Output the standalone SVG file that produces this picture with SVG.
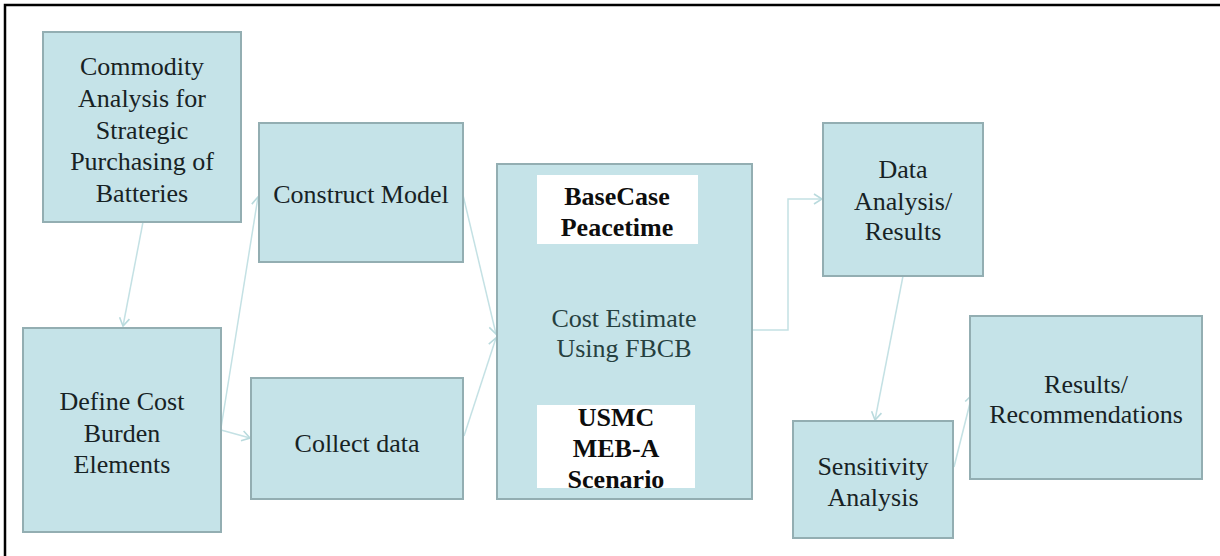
<svg xmlns="http://www.w3.org/2000/svg" width="1220" height="556" viewBox="0 0 1220 556">
<style>
.box{fill:#c5e3e8;stroke:#93aeb2;stroke-width:2}
.wbox{fill:#ffffff;stroke:none}
.t{font-family:"Liberation Serif","Times New Roman",serif;font-size:26px;fill:#172224;text-anchor:middle}
.b{font-weight:bold;fill:#0d0d0d}
.c{fill:#26403f}
.conn{fill:none;stroke:#c4e1e4;stroke-width:1.5}
</style>
<defs>
<marker id="arr" markerWidth="10" markerHeight="12" refX="9" refY="6" orient="auto" markerUnits="userSpaceOnUse">
<path d="M1,1 L9,6 L1,11" fill="none" stroke="#b9dadd" stroke-width="1.6"/>
</marker>
</defs>
<rect x="0" y="0" width="1220" height="556" fill="#ffffff"/>
<path d="M5,556 L5,5 L1220,5" fill="none" stroke="#000" stroke-width="2.5"/>

<g id="connectors">
<line class="conn" x1="143" y1="222" x2="123" y2="326" marker-end="url(#arr)"/>
<line class="conn" x1="221" y1="428" x2="258" y2="197" marker-end="url(#arr)"/>
<line class="conn" x1="221" y1="430" x2="250" y2="438" marker-end="url(#arr)"/>
<line class="conn" x1="463" y1="195" x2="496" y2="334" marker-end="url(#arr)"/>
<line class="conn" x1="464" y1="436" x2="496" y2="338" marker-end="url(#arr)"/>
<path class="conn" d="M752,330 L788,330 L788,199 L822,199" marker-end="url(#arr)"/>
<line class="conn" x1="903" y1="276" x2="875" y2="420" marker-end="url(#arr)"/>
<line class="conn" x1="954" y1="467" x2="972" y2="395" marker-end="url(#arr)"/>
</g>

<g id="commodity">
<rect class="box" x="43" y="32" width="198" height="190"/>
<text class="t" x="142" y="75">Commodity</text>
<text class="t" x="142" y="107">Analysis for</text>
<text class="t" x="142" y="139">Strategic</text>
<text class="t" x="142" y="170">Purchasing of</text>
<text class="t" x="142" y="202">Batteries</text>
</g>

<g id="construct">
<rect class="box" x="259" y="123" width="204" height="139"/>
<text class="t" x="361" y="203">Construct Model</text>
</g>

<g id="define">
<rect class="box" x="23" y="328" width="198" height="204"/>
<text class="t" x="122" y="410">Define Cost</text>
<text class="t" x="122" y="442">Burden</text>
<text class="t" x="122" y="473">Elements</text>
</g>

<g id="collect">
<rect class="box" x="251" y="378" width="212" height="121"/>
<text class="t" x="357" y="452">Collect data</text>
</g>

<g id="cost">
<rect class="box" x="497" y="164" width="255" height="335"/>
<rect class="wbox" x="537" y="175" width="161" height="69"/>
<text class="t b" x="617" y="205">BaseCase</text>
<text class="t b" x="617" y="236">Peacetime</text>
<text class="t c" x="624" y="327">Cost Estimate</text>
<text class="t c" x="624" y="357">Using FBCB</text>
<rect class="wbox" x="537" y="405" width="158" height="83"/>
<text class="t b" x="616" y="426">USMC</text>
<text class="t b" x="616" y="457">MEB-A</text>
<text class="t b" x="616" y="488">Scenario</text>
</g>

<g id="dataanalysis">
<rect class="box" x="823" y="123" width="160" height="153"/>
<text class="t" x="903" y="178">Data</text>
<text class="t" x="903" y="210">Analysis/</text>
<text class="t" x="903" y="240">Results</text>
</g>

<g id="sensitivity">
<rect class="box" x="793" y="421" width="160" height="117"/>
<text class="t" x="873" y="475">Sensitivity</text>
<text class="t" x="873" y="506">Analysis</text>
</g>

<g id="results">
<rect class="box" x="970" y="316" width="232" height="163"/>
<text class="t" x="1086" y="393">Results/</text>
<text class="t" x="1086" y="423">Recommendations</text>
</g>
</svg>
